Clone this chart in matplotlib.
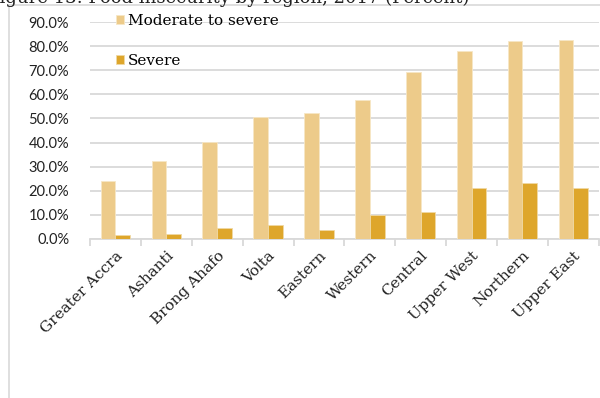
import numpy as np
import matplotlib.pyplot as plt
from matplotlib.patches import Rectangle
from matplotlib.ticker import PercentFormatter

# Food insecurity by region, 2017
regions = ['Greater Accra', 'Ashanti', 'Brong Ahafo', 'Volta', 'Eastern',
           'Western', 'Central', 'Upper West', 'Northern', 'Upper East']
moderate_to_severe = [24.2, 32.4, 40.1, 50.8, 52.3, 57.7, 69.3, 77.9, 82.2, 82.5]
severe = [1.7, 2.2, 4.5, 5.7, 3.8, 10.0, 11.1, 21.1, 23.1, 21.3]
y_ticks = np.arange(0, 91, 10)

MOD_COLOR = '#EDCB8A'
SEV_COLOR = '#DEA62B'
GRID_COLOR = '#D9D9D9'

fig = plt.figure(figsize=(6, 3.98), dpi=100)
ax = fig.add_axes([0.15, 0.3995, 0.848, 0.545])

# outer chart frame
fig.patches.append(Rectangle((9 / 600, -0.02), 1.0, 1 - 5 / 398 + 0.02,
                             transform=fig.transFigure, fill=False,
                             edgecolor=GRID_COLOR, linewidth=1.2))

fig.text(-13 / 600, 1 - 3 / 398, 'Figure 13: Food insecurity by region, 2017 (Percent)',
         family='DejaVu Serif', fontsize=13, va='baseline', ha='left', color='#222222')

x = np.arange(len(regions))
w = 0.29
ax.bar(x - w / 2, moderate_to_severe, w, color=MOD_COLOR, edgecolor='#F7E7C6',
       linewidth=0.6, label='Moderate to severe', zorder=3)
ax.bar(x + w / 2, severe, w, color=SEV_COLOR, edgecolor='#F0D9A4',
       linewidth=0.6, label='Severe', zorder=3)

ax.set_xlim(-0.5, len(regions) - 0.5)
ax.set_ylim(0, 90)
ax.set_yticks(y_ticks)
ax.yaxis.set_major_formatter(PercentFormatter(decimals=1))
ax.grid(axis='y', color=GRID_COLOR, linewidth=1.3, zorder=0)
ax.set_axisbelow(True)

for side in ['left', 'right', 'top']:
    ax.spines[side].set_visible(False)
ax.spines['bottom'].set_color(GRID_COLOR)
ax.spines['bottom'].set_linewidth(1.3)

ax.tick_params(axis='y', length=0, pad=15, labelsize=10.5, labelcolor='#222222')
for lbl in ax.get_yticklabels():
    lbl.set_family('Lato')

ax.set_xticks(x)
ax.set_xticklabels(regions, rotation=45, ha='right', rotation_mode='anchor',
                   family='DejaVu Serif', fontsize=11, color='#222222')
ax.tick_params(axis='x', which='major', length=0, pad=7)
ax.set_xticks(np.arange(-0.5, len(regions), 1.0), minor=True)
ax.tick_params(axis='x', which='minor', length=5, color=GRID_COLOR, width=1.3)

ax.legend(loc='upper left', bbox_to_anchor=(116 / 600, 1 - 14 / 398),
          bbox_transform=fig.transFigure, frameon=False,
          prop={'family': 'DejaVu Serif', 'size': 11},
          handlelength=0.55, handleheight=0.55, handletextpad=0.25,
          labelspacing=1.7, borderpad=0, borderaxespad=0)

fig.savefig('out.png', dpi=100)
